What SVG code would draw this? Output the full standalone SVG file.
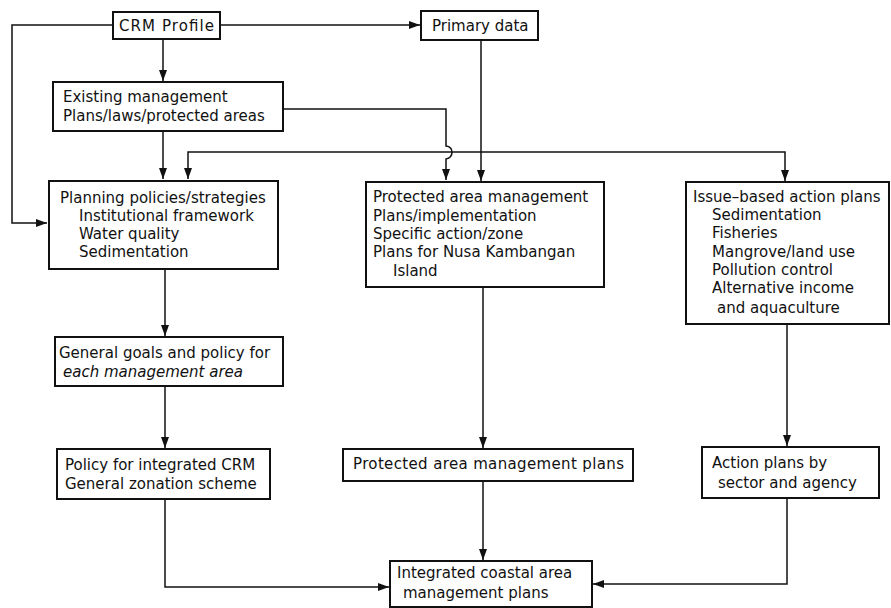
<svg xmlns="http://www.w3.org/2000/svg" width="891" height="608" viewBox="0 0 891 608">
  <style>
    .box { fill: #fff; stroke: #111; stroke-width: 2; }
    .lbl { font-family: "DejaVu Sans", "Liberation Sans", sans-serif; font-size: 15px; fill: #111; }
    .it { font-style: italic; }
    .wire { fill: none; stroke: #111; stroke-width: 1.5; }
  </style>
  <defs>
    <marker id="arrow" markerUnits="userSpaceOnUse" markerWidth="12" markerHeight="10" refX="11" refY="5" orient="auto">
      <path d="M0,1 L11,5 L0,9 Z" fill="#111"/>
    </marker>
  </defs>

  <g id="connectors">
    <path class="wire" d="M113,25 H12 V223 H47" marker-end="url(#arrow)"/>
    <path class="wire" d="M220,25 H420" marker-end="url(#arrow)"/>
    <path class="wire" d="M163,39 V81" marker-end="url(#arrow)"/>
    <path class="wire" d="M163,131 V179" marker-end="url(#arrow)"/>
    <path class="wire" d="M283,109 H446 V146 C454,147 454,157 446,159 V180" marker-end="url(#arrow)"/>
    <path class="wire" d="M481,152 H188 V179" marker-end="url(#arrow)"/>
    <path class="wire" d="M481,152 H785 V181" marker-end="url(#arrow)"/>
    <path class="wire" d="M481,40 V181" marker-end="url(#arrow)"/>
    <path class="wire" d="M165,269 V336" marker-end="url(#arrow)"/>
    <path class="wire" d="M165,386 V448" marker-end="url(#arrow)"/>
    <path class="wire" d="M165,499 V587 H389" marker-end="url(#arrow)"/>
    <path class="wire" d="M483,287 V448" marker-end="url(#arrow)"/>
    <path class="wire" d="M483,481 V560" marker-end="url(#arrow)"/>
    <path class="wire" d="M787,324 V446" marker-end="url(#arrow)"/>
    <path class="wire" d="M787,498 V584 H593" marker-end="url(#arrow)"/>
  </g>

  <g id="crm-profile">
    <rect class="box" x="113" y="12" width="107" height="27"/>
    <text class="lbl" x="119" y="31" textLength="95">CRM Profile</text>
  </g>

  <g id="primary-data">
    <rect class="box" x="421" y="11" width="117" height="29"/>
    <text class="lbl" x="432" y="31">Primary data</text>
  </g>

  <g id="existing-management">
    <rect class="box" x="53" y="82" width="230" height="49"/>
    <text class="lbl" x="63" y="102">Existing management</text>
    <text class="lbl" x="63" y="121">Plans/laws/protected areas</text>
  </g>

  <g id="planning-policies">
    <rect class="box" x="49" y="181" width="229" height="88"/>
    <text class="lbl" x="60" y="203">Planning policies/strategies</text>
    <text class="lbl" x="79" y="221">Institutional framework</text>
    <text class="lbl" x="79" y="239">Water quality</text>
    <text class="lbl" x="79" y="257">Sedimentation</text>
  </g>

  <g id="protected-area-management">
    <rect class="box" x="366" y="182" width="238" height="105"/>
    <text class="lbl" x="373" y="202">Protected area management</text>
    <text class="lbl" x="373" y="221">Plans/implementation</text>
    <text class="lbl" x="373" y="239">Specific action/zone</text>
    <text class="lbl" x="373" y="257">Plans for Nusa Kambangan</text>
    <text class="lbl" x="393" y="276">Island</text>
  </g>

  <g id="issue-based-plans">
    <rect class="box" x="686" y="182" width="203" height="142"/>
    <text class="lbl" x="693" y="202">Issue–based action plans</text>
    <text class="lbl" x="712" y="220">Sedimentation</text>
    <text class="lbl" x="712" y="238">Fisheries</text>
    <text class="lbl" x="712" y="257">Mangrove/land use</text>
    <text class="lbl" x="712" y="275">Pollution control</text>
    <text class="lbl" x="712" y="293">Alternative income</text>
    <text class="lbl" x="717" y="313">and aquaculture</text>
  </g>

  <g id="general-goals">
    <rect class="box" x="55" y="337" width="228" height="49"/>
    <text class="lbl" x="59" y="358">General goals and policy for</text>
    <text class="lbl it" x="63" y="377">each management area</text>
  </g>

  <g id="policy-integrated-crm">
    <rect class="box" x="57" y="449" width="213" height="50"/>
    <text class="lbl" x="65" y="470">Policy for integrated CRM</text>
    <text class="lbl" x="65" y="489">General zonation scheme</text>
  </g>

  <g id="protected-area-plans">
    <rect class="box" x="343" y="449" width="290" height="32"/>
    <text class="lbl" x="353" y="469" textLength="271">Protected area management plans</text>
  </g>

  <g id="action-plans">
    <rect class="box" x="702" y="447" width="177" height="51"/>
    <text class="lbl" x="712" y="468">Action plans by</text>
    <text class="lbl" x="718" y="488">sector and agency</text>
  </g>

  <g id="integrated-coastal-plans">
    <rect class="box" x="390" y="561" width="202" height="46"/>
    <text class="lbl" x="397" y="578">Integrated coastal area</text>
    <text class="lbl" x="403" y="598">management plans</text>
  </g>
</svg>
